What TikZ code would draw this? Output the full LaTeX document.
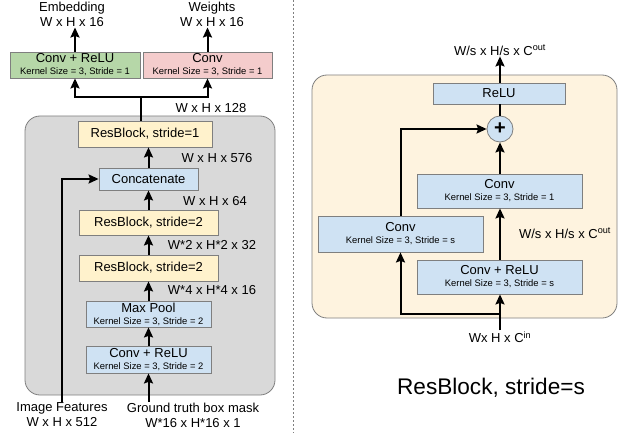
\documentclass[tikz,border=0pt]{standalone}
\usepackage{fontspec}
\setmainfont{Liberation Sans}
\usepackage{tikz}
\usetikzlibrary{arrows.meta,positioning,calc}
\definecolor{boxgreen}{HTML}{B6D7A8}
\definecolor{boxpink}{HTML}{F4CCCC}
\definecolor{boxyellow}{HTML}{FFF2CC}
\definecolor{boxblue}{HTML}{CFE2F3}
\definecolor{boxgray}{HTML}{D9D9D9}
\definecolor{boxtan}{HTML}{FEF3DF}
\definecolor{edgegray}{HTML}{7F7F7F}
\newcommand{\subtxt}{\fontsize{9.4}{11}\selectfont}
\tikzset{>={Stealth[length=10pt,width=9pt,inset=1.5pt]}}
\tikzset{
  layer/.style={draw=edgegray, line width=0.8pt, inner sep=0pt, align=center,
    font=\fontsize{13}{12}\selectfont},
  lbl/.style={inner sep=1pt, align=center, font=\fontsize{13}{15}\selectfont},
  flow/.style={line width=2pt},
  container/.style={draw=edgegray, line width=0.8pt, rounded corners=15pt}
}

\begin{document}
\begin{tikzpicture}[x=1pt,y=-1pt]
  \useasboundingbox (0,0) rectangle (621,433);
  % separator
  \draw[edgegray, line width=0.8pt, dash pattern=on 2pt off 2pt] (293,0) -- (293,433);

  % left: embedding network
  \draw[container, fill=boxgray] (25,116) rectangle (275,395);
  \node[layer, fill=boxgreen, minimum width=130pt, minimum height=26pt] (emb) at (75,65)
    {Conv + ReLU\\{\subtxt Kernel Size = 3, Stride = 1}};
  \node[layer, fill=boxpink, minimum width=129pt, minimum height=26pt] (wgt) at (207.5,65)
    {Conv\\{\subtxt Kernel Size = 3, Stride = 1}};
  \node[layer, fill=boxyellow, minimum width=134pt, minimum height=26pt] (rb1) at (145,134)
    {ResBlock, stride=1};
  \node[layer, fill=boxblue, minimum width=99pt, minimum height=22pt] (cat) at (148.5,179)
    {Concatenate};
  \node[layer, fill=boxyellow, minimum width=139pt, minimum height=25pt] (rb2a) at (148.5,222.5)
    {ResBlock, stride=2};
  \node[layer, fill=boxyellow, minimum width=139pt, minimum height=26pt] (rb2b) at (148.5,268)
    {ResBlock, stride=2};
  \node[layer, fill=boxblue, minimum width=125pt, minimum height=26pt] (pool) at (148.5,314)
    {Max Pool\\{\subtxt Kernel Size = 3, Stride = 2}};
  \node[layer, fill=boxblue, minimum width=125pt, minimum height=27pt] (crelu) at (148.5,359.5)
    {Conv + ReLU\\{\subtxt Kernel Size = 3, Stride = 2}};

  \node[lbl] (embtxt) at (72,14) {Embedding\\W x H x 16};
  \node[lbl] (wgttxt) at (212,14) {Weights\\W x H x 16};
  \node[lbl] (imgtxt) at (62,415) {Image Features\\W x H x 512};
  \node[lbl] (gttxt) at (193,415) {Ground truth box mask\\W*16 x H*16 x 1};
  \node[lbl] at (211,108) {W x H x 128};
  \node[lbl] at (217,158) {W x H x 576};
  \node[lbl] at (215,201) {W x H x 64};
  \node[lbl] at (212,245) {W*2 x H*2 x 32};
  \node[lbl] at (212,290) {W*4 x H*4 x 16};

  \coordinate (split) at (141,97);
  \draw[flow] (split |- rb1.north) -- (split);
  \draw[flow,->] (split) -| (emb.south);
  \draw[flow,->] (split) -| (wgt.south);
  \draw[flow,->] (emb.north) -- (emb.north |- embtxt.south);
  \draw[flow,->] (wgt.north) -- (wgt.north |- wgttxt.south);
  \draw[flow,->] (cat.north) -- (cat.north |- rb1.south);
  \draw[flow,->] (rb2a.north) -- (cat.south);
  \draw[flow,->] (rb2b.north) -- (rb2a.south);
  \draw[flow,->] (pool.north) -- (rb2b.south);
  \draw[flow,->] (crelu.north) -- (pool.south);
  \draw[flow,->] (crelu.south |- gttxt.north) -- (crelu.south);
  \draw[flow,->] (imgtxt.north) |- (cat.west);

  % right: resblock
  \draw[container, fill=boxtan] (312,75) rectangle (617,318);
  \node[layer, fill=boxblue, minimum width=132pt, minimum height=21pt] (relu) at (499,93.5) {ReLU};
  \node[layer, fill=boxblue, circle, minimum size=26pt, font=\fontsize{20}{20}\selectfont\bfseries] (plus) at (500,129) {+};
  \node[layer, fill=boxblue, minimum width=165pt, minimum height=34pt] (conv1) at (499.5,191)
    {Conv\\{\subtxt Kernel Size = 3, Stride = 1}};
  \node[layer, fill=boxblue, minimum width=165pt, minimum height=36pt] (convs) at (400.5,234)
    {Conv\\{\subtxt Kernel Size = 3, Stride = s}};
  \node[layer, fill=boxblue, minimum width=165pt, minimum height=34pt] (crs) at (499.5,277)
    {Conv + ReLU\\{\subtxt Kernel Size = 3, Stride = s}};

  \node[lbl] (outtxt) at (500,50) {W/s x H/s x C\textsuperscript{out}};
  \node[lbl] at (565,233) {W/s x H/s x C\textsuperscript{out}};
  \node[lbl] (intxt) at (500,337) {Wx H x C\textsuperscript{in}};
  \node[lbl, font=\fontsize{22.6}{26}\selectfont] (title) at (491,388) {ResBlock, stride=s};

  \coordinate (fork) at (500,314);
  \draw[flow] (intxt.north) -- (fork);
  \draw[flow,->] (fork) -- (fork |- crs.south);
  \draw[flow,->] (fork) -| (convs.south);
  \draw[flow,->] (crs.north -| fork) -- (fork |- conv1.south);
  \draw[flow,->] (fork |- conv1.north) -- (plus.south);
  \draw[flow,->] (convs.north) |- (plus.west);
  \draw[flow] (plus.north) -- (fork |- relu.south);
  \draw[flow,->] (fork |- relu.north) -- (outtxt.south);
\end{tikzpicture}
\end{document}
